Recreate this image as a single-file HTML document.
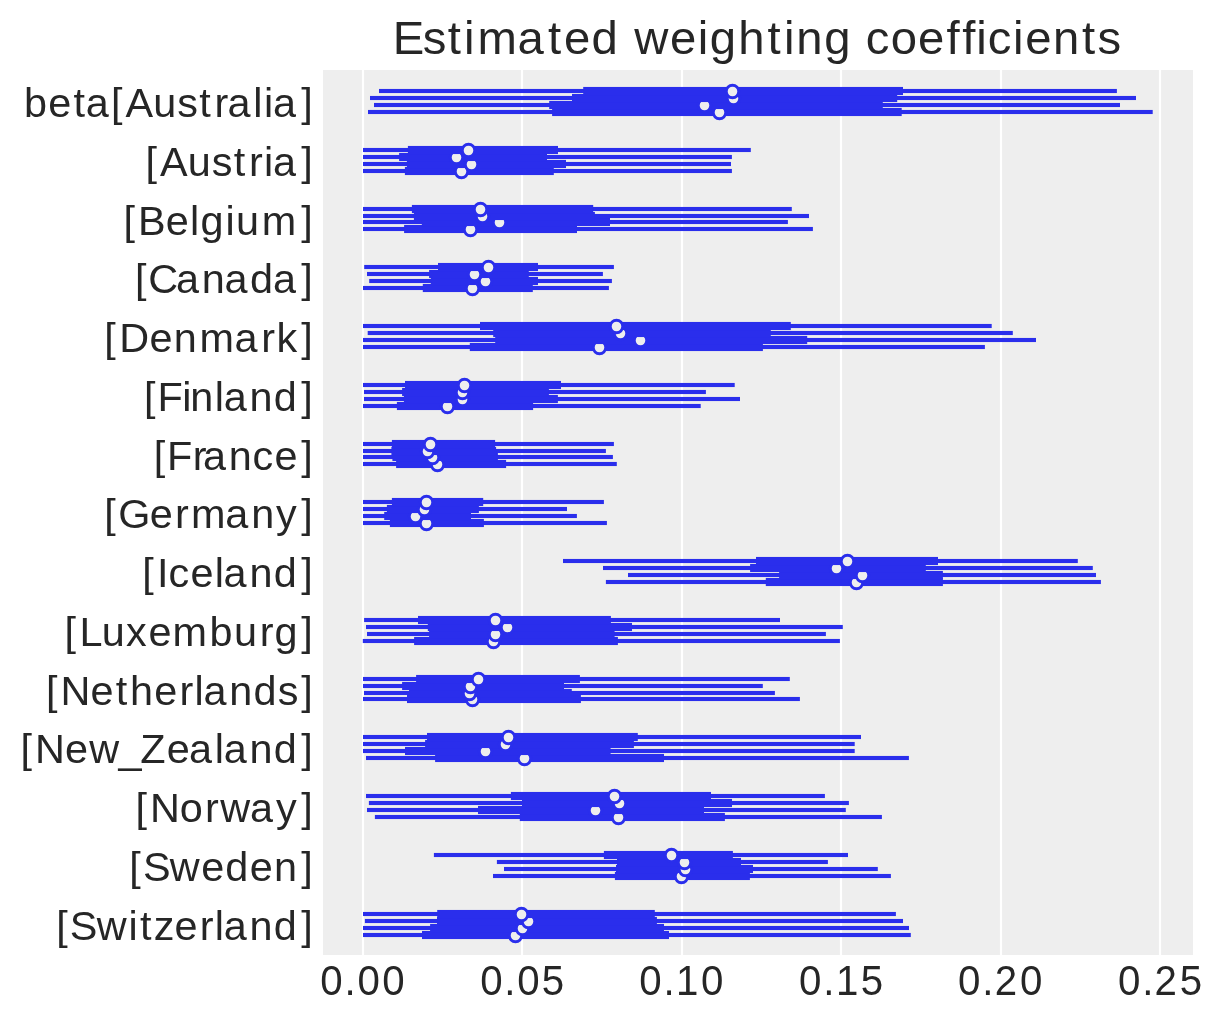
<!DOCTYPE html>
<html lang="en"><head><meta charset="utf-8"><title>Estimated weighting coefficients</title><style>html,body{margin:0;padding:0;background:#fff}svg{display:block}text{font-family:"Liberation Sans",sans-serif;fill:#262626}</style></head><body>
<svg width="1223" height="1023" viewBox="0 0 1223 1023">
<rect x="0" y="0" width="1223" height="1023" fill="#ffffff"/>
<rect x="323" y="70" width="870" height="885" fill="#eeeeee"/>
<rect x="361.90" y="70" width="2.2" height="885" fill="#ffffff"/>
<rect x="520.90" y="70" width="2.2" height="885" fill="#ffffff"/>
<rect x="680.90" y="70" width="2.2" height="885" fill="#ffffff"/>
<rect x="839.90" y="70" width="2.2" height="885" fill="#ffffff"/>
<rect x="999.90" y="70" width="2.2" height="885" fill="#ffffff"/>
<rect x="1158.90" y="70" width="2.2" height="885" fill="#ffffff"/>
<rect x="368.0" y="109.95" width="784.7" height="4.1" fill="#2a2eec"/>
<rect x="552.1" y="107.95" width="349.6" height="8.1" fill="#2a2eec"/>
<circle cx="719.5" cy="112.5" r="6.25" fill="#eeeeee" stroke="#2a2eec" stroke-width="2.9"/>
<rect x="374.0" y="102.95" width="746.0" height="4.1" fill="#2a2eec"/>
<rect x="549.2" y="100.95" width="333.6" height="8.1" fill="#2a2eec"/>
<circle cx="704.5" cy="105.5" r="6.25" fill="#eeeeee" stroke="#2a2eec" stroke-width="2.9"/>
<rect x="370.0" y="95.95" width="766.0" height="4.1" fill="#2a2eec"/>
<rect x="572.0" y="93.95" width="325.2" height="8.1" fill="#2a2eec"/>
<circle cx="733.5" cy="98.5" r="6.25" fill="#eeeeee" stroke="#2a2eec" stroke-width="2.9"/>
<rect x="379.0" y="88.95" width="737.9" height="4.1" fill="#2a2eec"/>
<rect x="583.2" y="86.95" width="319.8" height="8.1" fill="#2a2eec"/>
<circle cx="732.5" cy="91.5" r="6.25" fill="#eeeeee" stroke="#2a2eec" stroke-width="2.9"/>
<rect x="363.0" y="168.95" width="368.9" height="4.1" fill="#2a2eec"/>
<rect x="404.9" y="166.95" width="148.9" height="8.1" fill="#2a2eec"/>
<circle cx="461.5" cy="171.5" r="6.25" fill="#eeeeee" stroke="#2a2eec" stroke-width="2.9"/>
<rect x="363.0" y="161.95" width="368.0" height="4.1" fill="#2a2eec"/>
<rect x="406.9" y="159.95" width="159.1" height="8.1" fill="#2a2eec"/>
<circle cx="471.5" cy="164.5" r="6.25" fill="#eeeeee" stroke="#2a2eec" stroke-width="2.9"/>
<rect x="363.0" y="154.95" width="368.9" height="4.1" fill="#2a2eec"/>
<rect x="399.1" y="152.95" width="147.9" height="8.1" fill="#2a2eec"/>
<circle cx="456.5" cy="157.5" r="6.25" fill="#eeeeee" stroke="#2a2eec" stroke-width="2.9"/>
<rect x="363.0" y="147.95" width="387.8" height="4.1" fill="#2a2eec"/>
<rect x="407.9" y="145.95" width="150.1" height="8.1" fill="#2a2eec"/>
<circle cx="468.5" cy="150.5" r="6.25" fill="#eeeeee" stroke="#2a2eec" stroke-width="2.9"/>
<rect x="363.0" y="226.95" width="449.9" height="4.1" fill="#2a2eec"/>
<rect x="404.1" y="224.95" width="172.9" height="8.1" fill="#2a2eec"/>
<circle cx="470.5" cy="229.5" r="6.25" fill="#eeeeee" stroke="#2a2eec" stroke-width="2.9"/>
<rect x="363.0" y="219.95" width="424.9" height="4.1" fill="#2a2eec"/>
<rect x="421.8" y="217.95" width="188.2" height="8.1" fill="#2a2eec"/>
<circle cx="499.5" cy="222.5" r="6.25" fill="#eeeeee" stroke="#2a2eec" stroke-width="2.9"/>
<rect x="363.0" y="213.95" width="446.0" height="4.1" fill="#2a2eec"/>
<rect x="413.9" y="211.95" width="181.0" height="8.1" fill="#2a2eec"/>
<circle cx="482.5" cy="216.5" r="6.25" fill="#eeeeee" stroke="#2a2eec" stroke-width="2.9"/>
<rect x="363.0" y="206.95" width="428.8" height="4.1" fill="#2a2eec"/>
<rect x="411.9" y="204.95" width="181.3" height="8.1" fill="#2a2eec"/>
<circle cx="480.5" cy="209.5" r="6.25" fill="#eeeeee" stroke="#2a2eec" stroke-width="2.9"/>
<rect x="363.0" y="285.95" width="245.9" height="4.1" fill="#2a2eec"/>
<rect x="422.8" y="283.95" width="110.0" height="8.1" fill="#2a2eec"/>
<circle cx="472.5" cy="288.5" r="6.25" fill="#eeeeee" stroke="#2a2eec" stroke-width="2.9"/>
<rect x="369.2" y="278.95" width="242.7" height="4.1" fill="#2a2eec"/>
<rect x="430.8" y="276.95" width="107.2" height="8.1" fill="#2a2eec"/>
<circle cx="485.5" cy="281.5" r="6.25" fill="#eeeeee" stroke="#2a2eec" stroke-width="2.9"/>
<rect x="367.0" y="271.95" width="235.9" height="4.1" fill="#2a2eec"/>
<rect x="429.1" y="269.95" width="99.7" height="8.1" fill="#2a2eec"/>
<circle cx="474.5" cy="274.5" r="6.25" fill="#eeeeee" stroke="#2a2eec" stroke-width="2.9"/>
<rect x="364.2" y="264.95" width="249.7" height="4.1" fill="#2a2eec"/>
<rect x="438.0" y="262.95" width="100.0" height="8.1" fill="#2a2eec"/>
<circle cx="488.5" cy="267.5" r="6.25" fill="#eeeeee" stroke="#2a2eec" stroke-width="2.9"/>
<rect x="363.0" y="344.95" width="621.9" height="4.1" fill="#2a2eec"/>
<rect x="469.8" y="342.95" width="293.1" height="8.1" fill="#2a2eec"/>
<circle cx="599.5" cy="347.5" r="6.25" fill="#eeeeee" stroke="#2a2eec" stroke-width="2.9"/>
<rect x="363.0" y="337.95" width="673.0" height="4.1" fill="#2a2eec"/>
<rect x="495.2" y="335.95" width="312.0" height="8.1" fill="#2a2eec"/>
<circle cx="640.5" cy="340.5" r="6.25" fill="#eeeeee" stroke="#2a2eec" stroke-width="2.9"/>
<rect x="367.7" y="330.95" width="645.1" height="4.1" fill="#2a2eec"/>
<rect x="493.2" y="328.95" width="277.6" height="8.1" fill="#2a2eec"/>
<circle cx="620.5" cy="333.5" r="6.25" fill="#eeeeee" stroke="#2a2eec" stroke-width="2.9"/>
<rect x="363.0" y="323.95" width="628.7" height="4.1" fill="#2a2eec"/>
<rect x="480.0" y="321.95" width="310.8" height="8.1" fill="#2a2eec"/>
<circle cx="616.5" cy="326.5" r="6.25" fill="#eeeeee" stroke="#2a2eec" stroke-width="2.9"/>
<rect x="363.0" y="403.95" width="337.7" height="4.1" fill="#2a2eec"/>
<rect x="396.9" y="401.95" width="136.2" height="8.1" fill="#2a2eec"/>
<circle cx="447.5" cy="406.5" r="6.25" fill="#eeeeee" stroke="#2a2eec" stroke-width="2.9"/>
<rect x="364.0" y="396.95" width="376.0" height="4.1" fill="#2a2eec"/>
<rect x="403.9" y="394.95" width="154.0" height="8.1" fill="#2a2eec"/>
<circle cx="462.5" cy="399.5" r="6.25" fill="#eeeeee" stroke="#2a2eec" stroke-width="2.9"/>
<rect x="364.0" y="389.95" width="341.9" height="4.1" fill="#2a2eec"/>
<rect x="402.1" y="387.95" width="146.8" height="8.1" fill="#2a2eec"/>
<circle cx="462.5" cy="392.5" r="6.25" fill="#eeeeee" stroke="#2a2eec" stroke-width="2.9"/>
<rect x="363.0" y="382.95" width="371.7" height="4.1" fill="#2a2eec"/>
<rect x="405.0" y="380.95" width="156.0" height="8.1" fill="#2a2eec"/>
<circle cx="464.5" cy="385.5" r="6.25" fill="#eeeeee" stroke="#2a2eec" stroke-width="2.9"/>
<rect x="363.0" y="461.95" width="253.8" height="4.1" fill="#2a2eec"/>
<rect x="396.1" y="459.95" width="110.0" height="8.1" fill="#2a2eec"/>
<circle cx="437.5" cy="464.5" r="6.25" fill="#eeeeee" stroke="#2a2eec" stroke-width="2.9"/>
<rect x="363.0" y="454.95" width="249.9" height="4.1" fill="#2a2eec"/>
<rect x="392.4" y="452.95" width="105.5" height="8.1" fill="#2a2eec"/>
<circle cx="432.5" cy="457.5" r="6.25" fill="#eeeeee" stroke="#2a2eec" stroke-width="2.9"/>
<rect x="363.0" y="448.95" width="242.9" height="4.1" fill="#2a2eec"/>
<rect x="391.4" y="446.95" width="104.7" height="8.1" fill="#2a2eec"/>
<circle cx="427.5" cy="451.5" r="6.25" fill="#eeeeee" stroke="#2a2eec" stroke-width="2.9"/>
<rect x="363.0" y="441.95" width="250.9" height="4.1" fill="#2a2eec"/>
<rect x="391.9" y="439.95" width="103.2" height="8.1" fill="#2a2eec"/>
<circle cx="430.5" cy="444.5" r="6.25" fill="#eeeeee" stroke="#2a2eec" stroke-width="2.9"/>
<rect x="363.0" y="520.95" width="243.9" height="4.1" fill="#2a2eec"/>
<rect x="389.9" y="518.95" width="94.0" height="8.1" fill="#2a2eec"/>
<circle cx="426.5" cy="523.5" r="6.25" fill="#eeeeee" stroke="#2a2eec" stroke-width="2.9"/>
<rect x="363.0" y="513.95" width="213.9" height="4.1" fill="#2a2eec"/>
<rect x="384.2" y="511.95" width="86.8" height="8.1" fill="#2a2eec"/>
<circle cx="415.5" cy="516.5" r="6.25" fill="#eeeeee" stroke="#2a2eec" stroke-width="2.9"/>
<rect x="363.0" y="506.95" width="204.0" height="4.1" fill="#2a2eec"/>
<rect x="386.9" y="504.95" width="92.0" height="8.1" fill="#2a2eec"/>
<circle cx="424.5" cy="509.5" r="6.25" fill="#eeeeee" stroke="#2a2eec" stroke-width="2.9"/>
<rect x="363.0" y="499.95" width="240.9" height="4.1" fill="#2a2eec"/>
<rect x="391.9" y="497.95" width="91.3" height="8.1" fill="#2a2eec"/>
<circle cx="426.5" cy="502.5" r="6.25" fill="#eeeeee" stroke="#2a2eec" stroke-width="2.9"/>
<rect x="605.9" y="579.95" width="495.0" height="4.1" fill="#2a2eec"/>
<rect x="765.8" y="577.95" width="177.1" height="8.1" fill="#2a2eec"/>
<circle cx="856.5" cy="582.5" r="6.25" fill="#eeeeee" stroke="#2a2eec" stroke-width="2.9"/>
<rect x="628.0" y="572.95" width="468.0" height="4.1" fill="#2a2eec"/>
<rect x="779.1" y="570.95" width="163.8" height="8.1" fill="#2a2eec"/>
<circle cx="862.5" cy="575.5" r="6.25" fill="#eeeeee" stroke="#2a2eec" stroke-width="2.9"/>
<rect x="603.0" y="565.95" width="489.8" height="4.1" fill="#2a2eec"/>
<rect x="750.1" y="563.95" width="175.7" height="8.1" fill="#2a2eec"/>
<circle cx="836.5" cy="568.5" r="6.25" fill="#eeeeee" stroke="#2a2eec" stroke-width="2.9"/>
<rect x="563.0" y="558.95" width="514.8" height="4.1" fill="#2a2eec"/>
<rect x="756.0" y="556.95" width="182.0" height="8.1" fill="#2a2eec"/>
<circle cx="847.5" cy="561.5" r="6.25" fill="#eeeeee" stroke="#2a2eec" stroke-width="2.9"/>
<rect x="362.8" y="638.95" width="477.1" height="4.1" fill="#2a2eec"/>
<rect x="414.1" y="636.95" width="203.8" height="8.1" fill="#2a2eec"/>
<circle cx="493.5" cy="641.5" r="6.25" fill="#eeeeee" stroke="#2a2eec" stroke-width="2.9"/>
<rect x="367.0" y="631.95" width="458.9" height="4.1" fill="#2a2eec"/>
<rect x="429.1" y="629.95" width="185.5" height="8.1" fill="#2a2eec"/>
<circle cx="495.5" cy="634.5" r="6.25" fill="#eeeeee" stroke="#2a2eec" stroke-width="2.9"/>
<rect x="366.0" y="624.95" width="476.8" height="4.1" fill="#2a2eec"/>
<rect x="427.8" y="622.95" width="204.2" height="8.1" fill="#2a2eec"/>
<circle cx="507.5" cy="627.5" r="6.25" fill="#eeeeee" stroke="#2a2eec" stroke-width="2.9"/>
<rect x="364.1" y="617.95" width="415.9" height="4.1" fill="#2a2eec"/>
<rect x="418.0" y="615.95" width="192.9" height="8.1" fill="#2a2eec"/>
<circle cx="495.5" cy="620.5" r="6.25" fill="#eeeeee" stroke="#2a2eec" stroke-width="2.9"/>
<rect x="363.0" y="696.95" width="436.9" height="4.1" fill="#2a2eec"/>
<rect x="407.0" y="694.95" width="173.9" height="8.1" fill="#2a2eec"/>
<circle cx="472.5" cy="699.5" r="6.25" fill="#eeeeee" stroke="#2a2eec" stroke-width="2.9"/>
<rect x="364.0" y="690.95" width="410.9" height="4.1" fill="#2a2eec"/>
<rect x="409.0" y="688.95" width="162.8" height="8.1" fill="#2a2eec"/>
<circle cx="469.5" cy="693.5" r="6.25" fill="#eeeeee" stroke="#2a2eec" stroke-width="2.9"/>
<rect x="363.0" y="683.95" width="399.8" height="4.1" fill="#2a2eec"/>
<rect x="402.1" y="681.95" width="161.9" height="8.1" fill="#2a2eec"/>
<circle cx="470.5" cy="686.5" r="6.25" fill="#eeeeee" stroke="#2a2eec" stroke-width="2.9"/>
<rect x="363.0" y="676.95" width="426.8" height="4.1" fill="#2a2eec"/>
<rect x="416.1" y="674.95" width="163.8" height="8.1" fill="#2a2eec"/>
<circle cx="478.5" cy="679.5" r="6.25" fill="#eeeeee" stroke="#2a2eec" stroke-width="2.9"/>
<rect x="366.0" y="755.95" width="542.9" height="4.1" fill="#2a2eec"/>
<rect x="435.1" y="753.95" width="228.9" height="8.1" fill="#2a2eec"/>
<circle cx="524.5" cy="758.5" r="6.25" fill="#eeeeee" stroke="#2a2eec" stroke-width="2.9"/>
<rect x="363.0" y="748.95" width="491.7" height="4.1" fill="#2a2eec"/>
<rect x="405.0" y="746.95" width="205.6" height="8.1" fill="#2a2eec"/>
<circle cx="485.5" cy="751.5" r="6.25" fill="#eeeeee" stroke="#2a2eec" stroke-width="2.9"/>
<rect x="363.0" y="741.95" width="491.7" height="4.1" fill="#2a2eec"/>
<rect x="425.1" y="739.95" width="208.8" height="8.1" fill="#2a2eec"/>
<circle cx="505.5" cy="744.5" r="6.25" fill="#eeeeee" stroke="#2a2eec" stroke-width="2.9"/>
<rect x="363.0" y="734.95" width="498.0" height="4.1" fill="#2a2eec"/>
<rect x="427.0" y="732.95" width="210.8" height="8.1" fill="#2a2eec"/>
<circle cx="508.5" cy="737.5" r="6.25" fill="#eeeeee" stroke="#2a2eec" stroke-width="2.9"/>
<rect x="374.9" y="814.95" width="507.0" height="4.1" fill="#2a2eec"/>
<rect x="519.8" y="812.95" width="205.1" height="8.1" fill="#2a2eec"/>
<circle cx="618.5" cy="817.5" r="6.25" fill="#eeeeee" stroke="#2a2eec" stroke-width="2.9"/>
<rect x="367.0" y="807.95" width="478.8" height="4.1" fill="#2a2eec"/>
<rect x="478.0" y="805.95" width="226.0" height="8.1" fill="#2a2eec"/>
<circle cx="595.5" cy="810.5" r="6.25" fill="#eeeeee" stroke="#2a2eec" stroke-width="2.9"/>
<rect x="368.9" y="800.95" width="480.0" height="4.1" fill="#2a2eec"/>
<rect x="521.9" y="798.95" width="210.1" height="8.1" fill="#2a2eec"/>
<circle cx="619.5" cy="803.5" r="6.25" fill="#eeeeee" stroke="#2a2eec" stroke-width="2.9"/>
<rect x="366.0" y="793.95" width="458.9" height="4.1" fill="#2a2eec"/>
<rect x="510.9" y="791.95" width="200.1" height="8.1" fill="#2a2eec"/>
<circle cx="614.5" cy="796.5" r="6.25" fill="#eeeeee" stroke="#2a2eec" stroke-width="2.9"/>
<rect x="493.0" y="873.95" width="397.9" height="4.1" fill="#2a2eec"/>
<rect x="614.9" y="871.95" width="135.0" height="8.1" fill="#2a2eec"/>
<circle cx="681.5" cy="876.5" r="6.25" fill="#eeeeee" stroke="#2a2eec" stroke-width="2.9"/>
<rect x="504.0" y="866.95" width="373.8" height="4.1" fill="#2a2eec"/>
<rect x="616.0" y="864.95" width="137.0" height="8.1" fill="#2a2eec"/>
<circle cx="685.5" cy="869.5" r="6.25" fill="#eeeeee" stroke="#2a2eec" stroke-width="2.9"/>
<rect x="496.9" y="859.95" width="331.0" height="4.1" fill="#2a2eec"/>
<rect x="617.0" y="857.95" width="124.0" height="8.1" fill="#2a2eec"/>
<circle cx="684.5" cy="862.5" r="6.25" fill="#eeeeee" stroke="#2a2eec" stroke-width="2.9"/>
<rect x="433.9" y="852.95" width="414.1" height="4.1" fill="#2a2eec"/>
<rect x="603.9" y="850.95" width="129.0" height="8.1" fill="#2a2eec"/>
<circle cx="671.5" cy="855.5" r="6.25" fill="#eeeeee" stroke="#2a2eec" stroke-width="2.9"/>
<rect x="363.0" y="932.95" width="547.8" height="4.1" fill="#2a2eec"/>
<rect x="422.0" y="930.95" width="247.0" height="8.1" fill="#2a2eec"/>
<circle cx="515.5" cy="935.5" r="6.25" fill="#eeeeee" stroke="#2a2eec" stroke-width="2.9"/>
<rect x="363.0" y="925.95" width="546.0" height="4.1" fill="#2a2eec"/>
<rect x="430.1" y="923.95" width="233.9" height="8.1" fill="#2a2eec"/>
<circle cx="522.5" cy="928.5" r="6.25" fill="#eeeeee" stroke="#2a2eec" stroke-width="2.9"/>
<rect x="364.9" y="918.95" width="538.1" height="4.1" fill="#2a2eec"/>
<rect x="437.0" y="916.95" width="219.9" height="8.1" fill="#2a2eec"/>
<circle cx="528.5" cy="921.5" r="6.25" fill="#eeeeee" stroke="#2a2eec" stroke-width="2.9"/>
<rect x="363.0" y="911.95" width="532.9" height="4.1" fill="#2a2eec"/>
<rect x="437.2" y="909.95" width="217.6" height="8.1" fill="#2a2eec"/>
<circle cx="521.5" cy="914.5" r="6.25" fill="#eeeeee" stroke="#2a2eec" stroke-width="2.9"/>
<g id="labels" style="opacity:0.999">
<text transform="scale(1.03,1)" font-size="45.9" x="381.23 410.39 434.74 450.60 463.70 502.55 532.11 547.66 574.28 601.48 615.77 650.60 677.46 689.20 716.85 745.22 761.09 773.16 800.18 827.38 840.51 864.78 891.33 919.05 934.24 947.91 958.89 983.62 995.30 1022.23 1050.55 1065.60" y="54.00">Estimated weighting coefficients</text>
<text transform="scale(1.03,1)" font-size="40.2" x="23.38 46.85 71.26 83.31 107.75 121.74 148.76 172.06 193.37 208.24 220.93 245.93 256.42 265.05 292.48" y="117.18">beta[Australia]</text>
<text transform="scale(1.03,1)" font-size="40.2" x="141.36 155.35 182.37 205.67 226.98 241.85 256.40 265.04 292.46" y="175.93">[Austria]</text>
<text transform="scale(1.03,1)" font-size="40.2" x="119.94 133.89 160.84 184.36 194.61 218.82 229.20 254.15 292.45" y="234.69">[Belgium]</text>
<text transform="scale(1.03,1)" font-size="40.2" x="131.04 143.97 170.84 195.85 217.90 242.66 265.01 292.44" y="293.44">[Canada]</text>
<text transform="scale(1.03,1)" font-size="40.2" x="101.19 115.71 145.26 168.79 193.63 227.63 253.60 268.49 292.45" y="352.19">[Denmark]</text>
<text transform="scale(1.03,1)" font-size="40.2" x="139.84 152.81 176.85 184.61 208.52 217.15 242.16 265.83 292.48" y="410.95">[Finland]</text>
<text transform="scale(1.03,1)" font-size="40.2" x="149.19 162.16 187.16 197.11 222.12 245.10 266.51 292.46" y="469.70">[France]</text>
<text transform="scale(1.03,1)" font-size="40.2" x="101.25 114.74 145.51 169.99 185.46 218.80 243.82 268.02 292.51" y="528.46">[Germany]</text>
<text transform="scale(1.03,1)" font-size="40.2" x="138.08 152.55 163.57 184.98 208.49 217.12 242.14 265.81 292.45" y="587.21">[Iceland]</text>
<text transform="scale(1.03,1)" font-size="40.2" x="62.54 77.11 98.75 122.33 144.18 167.45 203.53 227.18 252.18 266.49 292.47" y="645.97">[Luxemburg]</text>
<text transform="scale(1.03,1)" font-size="40.2" x="44.64 58.69 87.88 112.30 126.15 149.85 174.33 188.88 197.51 222.53 246.20 269.67 292.51" y="704.73">[Netherlands]</text>
<text transform="scale(1.03,1)" font-size="40.2" x="19.82 33.87 63.06 86.65 114.99 136.17 161.92 183.57 208.57 217.20 242.21 265.89 292.53" y="763.48">[New_Zealand]</text>
<text transform="scale(1.03,1)" font-size="40.2" x="131.53 145.58 174.62 199.13 213.75 242.70 267.99 292.48" y="822.24">[Norway]</text>
<text transform="scale(1.03,1)" font-size="40.2" x="125.52 138.79 164.85 195.37 218.64 242.57 266.10 292.44" y="880.99">[Sweden]</text>
<text transform="scale(1.03,1)" font-size="40.2" x="54.53 67.79 93.85 124.66 136.05 149.22 169.49 193.97 208.53 217.16 242.17 265.84 292.48" y="939.75">[Switzerland]</text>
<text transform="scale(0.95,1)" font-size="42.4" x="337.16 362.63 376.22 402.26" y="994.70">0.00</text>
<text transform="scale(0.95,1)" font-size="42.4" x="505.43 530.90 544.49 570.37" y="994.70">0.05</text>
<text transform="scale(0.95,1)" font-size="42.4" x="672.84 698.31 711.67 737.95" y="994.70">0.10</text>
<text transform="scale(0.95,1)" font-size="42.4" x="841.11 866.58 879.94 906.05" y="994.70">0.15</text>
<text transform="scale(0.95,1)" font-size="42.4" x="1008.53 1034.00 1047.06 1073.63" y="994.70">0.20</text>
<text transform="scale(0.95,1)" font-size="42.4" x="1176.80 1202.27 1215.33 1241.73" y="994.70">0.25</text>
</g>
</svg></body></html>
